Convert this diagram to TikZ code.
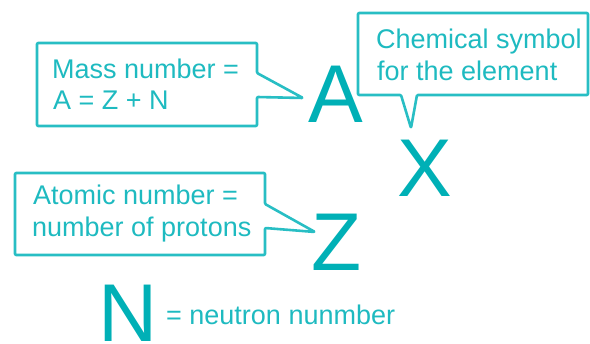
\documentclass[tikz,border=0pt]{standalone}
\usepackage{fontspec}
\setmainfont{Liberation Sans}
\definecolor{boxcol}{RGB}{40,190,196}
\definecolor{txtcol}{RGB}{30,186,192}
\definecolor{bigcol}{RGB}{0,176,182}
\tikzset{
  callout/.style={draw=boxcol, line width=2.6pt, line join=round, rounded corners=1pt},
  label/.style={anchor=base west, inner sep=0pt, text=txtcol, font=\fontsize{27}{31}\selectfont},
  bigletter/.style={anchor=base west, inner sep=0pt, text depth=0pt, text=bigcol, font=\fontsize{82}{82}\selectfont},
}
\begin{document}
\begin{tikzpicture}[x=1pt,y=-1pt]
\useasboundingbox (0,0) rectangle (590,344);
% callout outlines
\draw[callout] (37,43) -- (257,43) -- (257,73) -- (303,98) -- (257,97) -- (257,126) -- (37,126) -- cycle;
\draw[callout] (358,13) -- (588,13) -- (588,95) -- (417,95) -- (411,128) -- (401,95) -- (358,95) -- cycle;
\draw[callout] (15,173) -- (265,173) -- (265,204) -- (315,232) -- (265,228) -- (265,255) -- (15,255) -- cycle;
% callout texts
\node[label] (mass1) at (52,79) {Mass number =};
\node[label] (mass2) at (53,110) {A = Z + N};
\node[label] (chem1) at (376,49) {Chemical symbol};
\node[label] (chem2) at (377,81) {for the element};
\node[label] (atom1) at (33,205) {Atomic number =};
\node[label] (atom2) at (32,237) {number of protons};
\node[label] (neut) at (166,325) {= neutron nunmber};
% big letters
\node[bigletter] (A) at (308,123) {A};
\node[bigletter] (X) at (397,197) {X};
\node[bigletter] (Z) at (311,271) {Z};
\node[bigletter] (N) at (98,342) {N};
\end{tikzpicture}
\end{document}
